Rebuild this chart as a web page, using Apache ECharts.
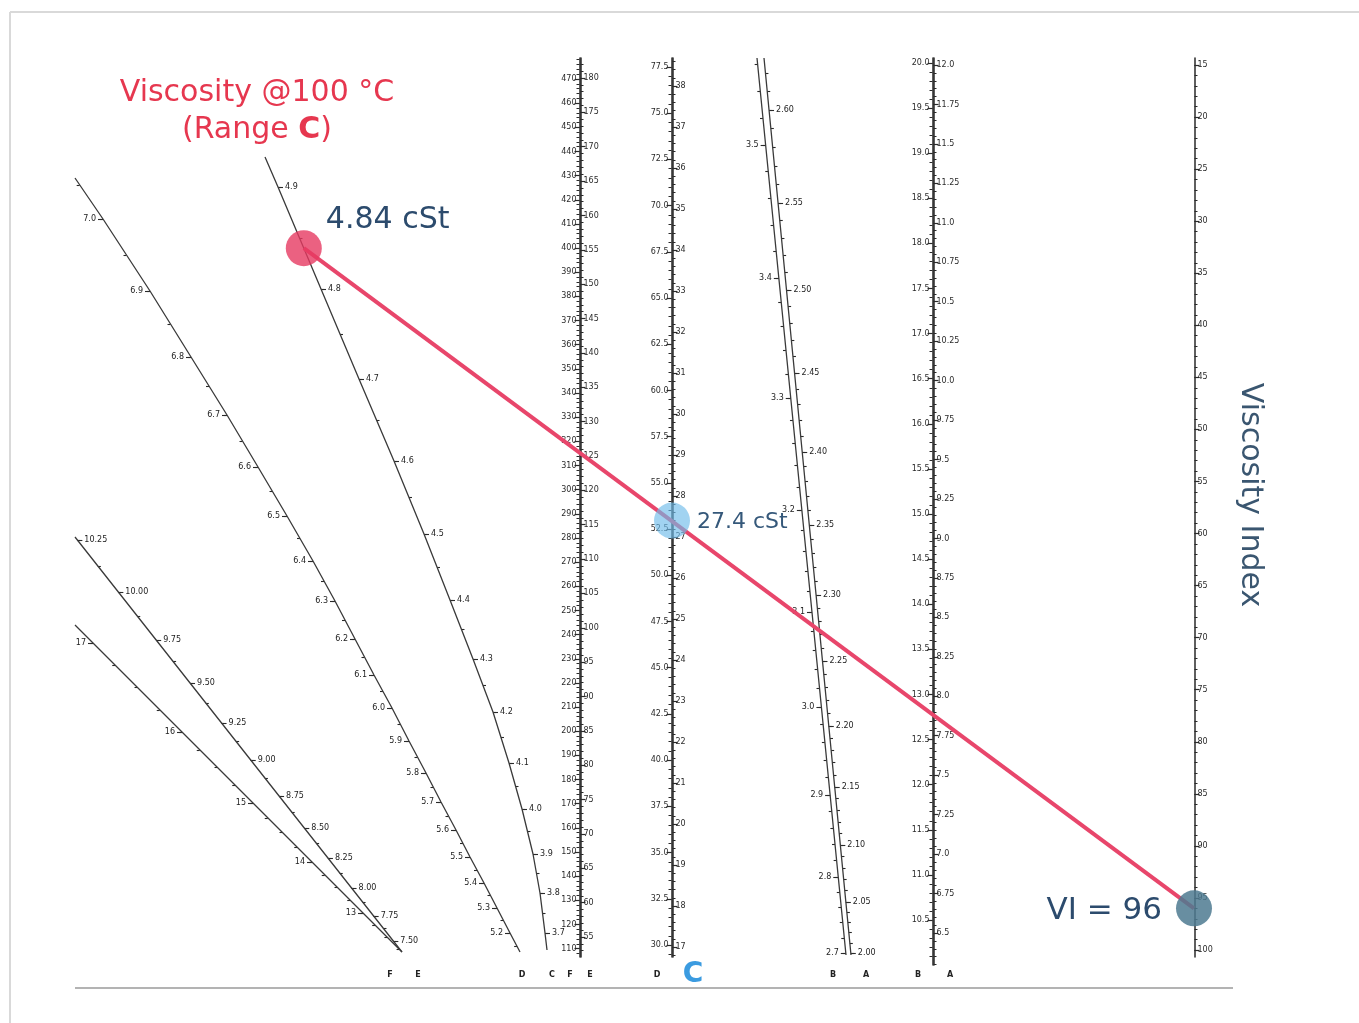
<!DOCTYPE html>
<html><head><meta charset="utf-8">
<script src="https://cdn.jsdelivr.net/npm/echarts@6/dist/echarts.min.js"></script>
<style>html,body{margin:0;padding:0;background:#fff}#c{width:1359px;height:1023px}</style>
</head><body><div id="c"></div>
<script>
// ---------------- DATA ----------------
// vertical scale at column 1 (F left, E right)
const col1LeftTicks  = [110,120,130,140,150,160,170,180,190,200,210,220,230,240,250,260,270,280,290,300,310,320,330,340,350,360,370,380,390,400,410,420,430,440,450,460,470];
const col1RightTicks = [55,60,65,70,75,80,85,90,95,100,105,110,115,120,125,130,135,140,145,150,155,160,165,170,175,180];
// column 2 (D left, C right)
const col2LeftTicks  = [30.0,32.5,35.0,37.5,40.0,42.5,45.0,47.5,50.0,52.5,55.0,57.5,60.0,62.5,65.0,67.5,70.0,72.5,75.0,77.5];
const col2RightTicks = [17,18,19,20,21,22,23,24,25,26,27,28,29,30,31,32,33,34,35,36,37,38];
// column 3 (B left, A right)
const col3LeftTicks  = [10.5,11.0,11.5,12.0,12.5,13.0,13.5,14.0,14.5,15.0,15.5,16.0,16.5,17.0,17.5,18.0,18.5,19.0,19.5,20.0];
const col3RightTicks = [6.5,6.75,7.0,7.25,7.5,7.75,8.0,8.25,8.5,8.75,9.0,9.25,9.5,9.75,10.0,10.25,10.5,10.75,11.0,11.25,11.5,11.75,12.0];
// viscosity index scale
const viTicks = [15,20,25,30,35,40,45,50,55,60,65,70,75,80,85,90,95,100];
// tilted scales (B left, A right)
const tiltBTicks = [3.5,3.4,3.3,3.2,3.1,3.0,2.9,2.8,2.7];
const tiltATicks = [2.60,2.55,2.50,2.45,2.40,2.35,2.30,2.25,2.20,2.15,2.10,2.05,2.00];
// slanted left scales
const curveFTicks = [17,16,15,14,13];
const curveETicks = [10.25,10.00,9.75,9.50,9.25,9.00,8.75,8.50,8.25,8.00,7.75,7.50];
const curveDTicks = [7.0,6.9,6.8,6.7,6.6,6.5,6.4,6.3,6.2,6.1,6.0,5.9,5.8,5.7,5.6,5.5,5.4,5.3,5.2];
const curveCTicks = [4.9,4.8,4.7,4.6,4.5,4.4,4.3,4.2,4.1,4.0,3.9,3.8,3.7];
// reading example
const viscosity100 = 4.84;   // cSt, range C
const viscosityMid = 27.4;   // cSt
const viscosityIndex = 96;
const bottomLetters = ['F','E','D','C','F','E','D','B','A','B','A'];

// ---------------- LAYOUT (geometry / styles) ----------------
const W = 1359, H = 1023;
const FONT = 'DejaVu Sans';
const INK = '#2a2a2a';
const letterX = [390,418,522,552,570,590,657,833,866,918,950];

function fmtv(v, dec){
  if (dec === 'q') return (Math.abs(v*2 - Math.round(v*2)) < 1e-6) ? v.toFixed(1) : v.toFixed(2);
  return dec === 0 ? String(Math.round(v)) : v.toFixed(dec);
}

const columns = [
  {x:580, top:58, bottom:957,
   left:{ticks:col1LeftTicks, minor:2, anchors:[[470,79],[150,852]], dec:0},
   right:{ticks:col1RightTicks, minor:1, anchors:[[180,78],[55,937]], dec:0}},
  {x:672, top:58, bottom:957,
   left:{ticks:col2LeftTicks, minor:0.5, anchors:[[77.5,67],[30.0,945]], dec:1},
   right:{ticks:col2RightTicks, minor:0.2, anchors:[[38,86],[17,947]], dec:0}},
  {x:933, top:58, bottom:965,
   left:{ticks:col3LeftTicks, minor:0.1, anchors:[[20,63],[10.5,920]], dec:1},
   right:{ticks:col3RightTicks, minor:0.05, anchors:[[12,65],[6.5,933]], dec:'q'}},
  {x:1194, top:58, bottom:957,
   right:{ticks:viTicks, minor:1, anchors:[[15,65],[100,950]], dec:0}}
];

const curves = [
  {ticks:curveFTicks, minor:0.25, side:'left', dec:0, line:[[75,625],[402,952]],
   ys:[[17.2,625],[17,643],[16,732],[15,803],[14,862],[13,913],[12.2,952]]},
  {ticks:curveETicks, minor:0.125, side:'right', dec:2, line:[[75,537],[402,952]],
   ys:[[10.27,537],[10.25,540],[10.00,592],[9.75,640],[9.50,683],[9.25,723],[9.00,760],[8.75,796],[8.50,828],[8.25,858],[8.00,888],[7.75,916],[7.50,941],[7.40,952]]},
  {ticks:curveDTicks, minor:0.05, side:'left', dec:1,
   pts:[[7.06,75,178],[7.0,103,219],[6.9,150,291],[6.8,191,357],[6.7,227,415],[6.6,258,467],[6.5,287,516],[6.4,313,561],[6.3,335,601],[6.2,355,639],[6.1,374,675],[6.0,392,708],[5.9,409,741],[5.8,426,773],[5.7,441,802],[5.6,456,830],[5.5,470,857],[5.4,484,883],[5.3,497,908],[5.2,510,933],[5.13,520,952]]},
  {ticks:curveCTicks, minor:0.05, side:'right', dec:1,
   pts:[[4.93,265,157],[4.9,278,187],[4.8,321,289],[4.7,359,379],[4.6,394,461],[4.5,424,534],[4.4,450,600],[4.3,473,659],[4.2,493,712],[4.1,509,763],[4.0,522,809],[3.9,533,854],[3.8,540,893],[3.7,545,933],[3.66,547,950]]},
  {ticks:tiltBTicks, minor:0.02, side:'left', dec:1, line:[[757,58],[846,955]],
   ys:[[3.565,58],[3.5,145],[3.4,278],[3.3,398],[3.2,510],[3.1,612],[3.0,707],[2.9,795],[2.8,877],[2.7,953],[2.698,955]]},
  {ticks:tiltATicks, minor:0.01, side:'right', dec:2, line:[[764,58],[851,955]],
   ys:[[2.628,58],[2.60,110],[2.55,203],[2.50,290],[2.45,373],[2.40,452],[2.35,525],[2.30,595],[2.25,661],[2.20,726],[2.15,787],[2.10,845],[2.05,902],[2.00,953],[1.998,955]]}
];

// ---------------- BUILD ----------------
const grids = [{left:0, top:0, width:W, height:H}];
const xAxes = [{gridIndex:0, type:'value', min:0, max:W, show:false}];
const yAxes = [{gridIndex:0, type:'value', min:0, max:H, inverse:true, show:false}];

columns.forEach(c => {
  const g = grids.length;
  grids.push({left:c.x - 0.5, top:c.top, width:1, height:c.bottom - c.top});
  xAxes.push({gridIndex:g, type:'value', min:0, max:1, show:false});
  ['left','right'].forEach(side => {
    const s = c[side]; if (!s) return;
    const [[v1,y1],[v2,y2]] = s.anchors;
    const k = (y2 - y1) / (v2 - v1);
    const vAt = y => v1 + (y - y1) / k;
    s.yAt = v => y1 + (v - v1) * k;
    const vt = vAt(c.top), vb = vAt(c.bottom);
    const inverse = vt < vb;
    const min = Math.min(vt, vb), max = Math.max(vt, vb);
    const minors = [];
    const n0 = Math.ceil(min / s.minor - 1e-9), n1 = Math.floor(max / s.minor + 1e-9);
    for (let n = n0; n <= n1; n++) minors.push(+(n * s.minor).toFixed(5));
    const base = {type:'value', gridIndex:g, position:side, min:min, max:max, inverse:inverse, splitLine:{show:false}};
    s.axisIndex = yAxes.length;
    yAxes.push(Object.assign({}, base, {
      axisLine:{show:true, onZero:false, lineStyle:{color:INK, width:1.5}},
      axisTick:{show:true, length:5, customValues:s.ticks, lineStyle:{color:INK, width:1.2}},
      axisLabel:{show:true, customValues:s.ticks, margin:3, fontSize:8, fontFamily:FONT, color:INK,
                 formatter:(v) => fmtv(v, s.dec)}
    }));
    yAxes.push(Object.assign({}, base, {
      axisLine:{show:false, onZero:false},
      axisTick:{show:true, length:3, customValues:minors, lineStyle:{color:INK, width:1}},
      axisLabel:{show:false}
    }));
  });
});

const series = [];
curves.forEach(c => {
  const P = c.pts ? c.pts : c.ys.map(([v,y]) => {
    const [[x0,y0],[x1,y1]] = c.line;
    return [v, x0 + (y - y0) * (x1 - x0) / (y1 - y0), y];
  });
  c.pos = v => {
    for (let i = 0; i < P.length - 1; i++) {
      const a = P[i], b = P[i+1];
      if ((v <= a[0] && v >= b[0]) || i === P.length - 2) {
        const t = (v - a[0]) / (b[0] - a[0]);
        return [a[1] + t * (b[1] - a[1]), a[2] + t * (b[2] - a[2])];
      }
    }
  };
  const dir = c.side === 'left' ? -1 : 1;
  series.push({type:'line', xAxisIndex:0, yAxisIndex:0, data:P.map(p => [p[1], p[2]]),
               showSymbol:false, symbol:'none', silent:true, lineStyle:{color:'#3a3a3a', width:1.3}, z:2});
  const tickLines = [];
  const vMax = P[0][0], vMin = P[P.length-1][0];
  const n0 = Math.ceil(vMin / c.minor - 1e-9), n1 = Math.floor(vMax / c.minor + 1e-9);
  for (let n = n0; n <= n1; n++) {
    const [x,y] = c.pos(n * c.minor);
    tickLines.push({coords:[[x,y],[x + dir*3, y]]});
  }
  const labels = [];
  c.ticks.forEach(v => {
    const [x,y] = c.pos(v);
    tickLines.push({coords:[[x,y],[x + dir*5, y]]});
    labels.push([x + dir*6, y, fmtv(v, c.dec)]);
  });
  series.push({type:'lines', coordinateSystem:'cartesian2d', xAxisIndex:0, yAxisIndex:0, data:tickLines,
               silent:true, lineStyle:{color:INK, width:1.1, opacity:1}, z:2});
  series.push({type:'scatter', xAxisIndex:0, yAxisIndex:0, data:labels, symbolSize:0, silent:true, z:2,
               itemStyle:{opacity:1},
               label:{show:true, position:c.side, distance:1, fontSize:8, fontFamily:FONT, color:'#222', opacity:1,
                      formatter:p => p.data[2]}});
});

const chart = echarts.init(document.getElementById('c'), null, {renderer:'canvas', width:W, height:H});
chart.setOption({
  animation:false, backgroundColor:'#fff',
  grid:grids, xAxis:xAxes, yAxis:yAxes, series:series
});

// ------------- reading markers (positions through the scales) -------------
const cCurve = curves[3];
const [rx, ry] = cCurve.pos(viscosity100);
const midSide = columns[1].right, viSide = columns[3].right;
let by = chart.convertToPixel({yAxisIndex: midSide.axisIndex}, viscosityMid);
if (!isFinite(by)) by = midSide.yAt(viscosityMid);
let vy = chart.convertToPixel({yAxisIndex: viSide.axisIndex}, viscosityIndex);
if (!isFinite(vy)) vy = viSide.yAt(viscosityIndex);
const bx = columns[1].x, vx = columns[3].x;

series.push({type:'line', xAxisIndex:0, yAxisIndex:0, data:[[rx,ry],[vx,vy]], symbol:'none', silent:true,
             lineStyle:{color:'#e8466b', width:4}, z:5});
series.push({type:'scatter', xAxisIndex:0, yAxisIndex:0, symbolSize:36, silent:true, z:6,
             data:[
               {value:[rx,ry], itemStyle:{color:'rgba(230,58,98,0.8)', opacity:1}},
               {value:[bx,by], itemStyle:{color:'rgba(110,188,234,0.65)', opacity:1}},
               {value:[vx,vy], itemStyle:{color:'rgba(78,122,145,0.85)', opacity:1}}
             ]});

const graphic = [
  {type:'line', shape:{x1:10,y1:12,x2:W,y2:12}, style:{stroke:'#d9d9d9', lineWidth:2}, z:1},
  {type:'line', shape:{x1:10,y1:12,x2:10,y2:H}, style:{stroke:'#d9d9d9', lineWidth:2}, z:1},
  {type:'line', shape:{x1:75,y1:988,x2:1233,y2:988}, style:{stroke:'#9a9a9a', lineWidth:1.5}, z:1},
  {type:'text', x:257, y:93, z:10, style:{text:'Viscosity @100 °C', fill:'#e6374f', fontSize:30, fontFamily:FONT, textAlign:'center', textVerticalAlign:'middle'}},
  {type:'text', x:257, y:130, z:10, style:{text:'(Range {b|C})', fill:'#e6374f', fontSize:30, fontFamily:FONT, textAlign:'center', textVerticalAlign:'middle',
      rich:{b:{fontWeight:'bold', fontSize:30, fontFamily:FONT, fill:'#e6374f'}}}},
  {type:'text', x:rx + 22, y:ry - 28, z:10, style:{text:viscosity100 + ' cSt', fill:'#2c4b6d', fontSize:30, fontFamily:FONT, textAlign:'left', textVerticalAlign:'middle'}},
  {type:'text', x:bx + 25, y:by + 2, z:10, style:{text:viscosityMid + ' cSt', fill:'#35587a', fontSize:22, fontFamily:FONT, textAlign:'left', textVerticalAlign:'middle'}},
  {type:'text', x:vx - 32, y:vy + 3, z:10, style:{text:'VI = ' + viscosityIndex, fill:'#2c4b6d', fontSize:31, fontFamily:FONT, textAlign:'right', textVerticalAlign:'middle'}},
  {type:'text', x:1250, y:495, rotation:-Math.PI/2, z:10, style:{text:'Viscosity Index', fill:'#3a5670', fontSize:30, fontFamily:FONT, textAlign:'center', textVerticalAlign:'middle'}},
  {type:'text', x:693, y:975, z:10, style:{text:'C', fill:'#3b9be0', fontSize:28, fontWeight:'bold', fontFamily:FONT, textAlign:'center', textVerticalAlign:'middle'}}
];
bottomLetters.forEach((t,i) => graphic.push({type:'text', x:letterX[i], y:975, z:10,
  style:{text:t, fill:'#222', fontSize:8, fontWeight:'bold', fontFamily:FONT, textAlign:'center', textVerticalAlign:'middle'}}));

chart.setOption({series:series, graphic:graphic});
</script></body></html>
